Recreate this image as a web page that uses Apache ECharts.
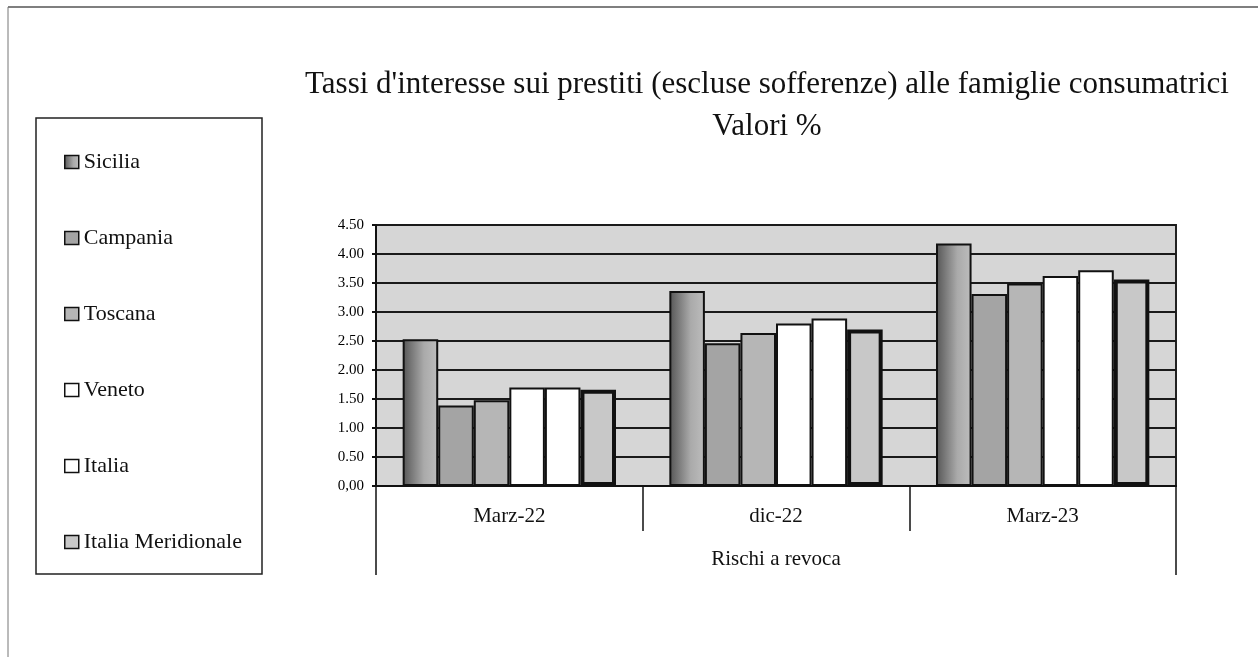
<!DOCTYPE html>
<html><head><meta charset="utf-8">
<script src="https://cdn.jsdelivr.net/npm/echarts@6/dist/echarts.min.js"></script>
<style>html,body{margin:0;padding:0;background:#fff}#c{width:1258px;height:657px}</style>
</head><body><div id="c"></div>
<script>
const categories = ['Marz-22', 'dic-22', 'Marz-23'];
const groupLabel = ['Rischi a revoca'];
const seriesNames = ['Sicilia', 'Campania', 'Toscana', 'Veneto', 'Italia', 'Italia Meridionale'];
const sicilia = [2.53, 3.36, 4.18];
const campania = [1.39, 2.46, 3.31];
const toscana = [1.48, 2.64, 3.49];
const veneto = [1.70, 2.80, 3.62];
const italia = [1.70, 2.89, 3.72];
const meridionale = [1.66, 2.70, 3.56];
const yTickLabels = ['0,00', '0.50', '1.00', '1.50', '2.00', '2.50', '3.00', '3.50', '4.00', '4.50'];

const serif = 'Liberation Serif';
const values = [sicilia, campania, toscana, veneto, italia, meridionale];
const fills = [
  {type: 'linear', x: 0, y: 0, x2: 1, y2: 0, colorStops: [{offset: 0, color: '#555'}, {offset: 0.6, color: '#aaa'}, {offset: 1, color: '#bdbdbd'}]},
  '#a4a4a4', '#b6b6b6', '#ffffff', '#ffffff', '#c8c8c8'
];
const borders = [2, 2, 2, 2, 2, 4];

const chart = echarts.init(document.getElementById('c'), null, {renderer: 'canvas'});
chart.setOption({
  animation: false,
  backgroundColor: '#fff',
  title: {
    text: "Tassi d'interesse sui prestiti (escluse sofferenze) alle famiglie consumatrici\nValori %",
    left: 762, top: 59, textAlign: 'center',
    textStyle: {fontFamily: serif, fontSize: 31, fontWeight: 'normal', color: '#111', lineHeight: 42}
  },
  legend: {
    orient: 'vertical', left: 59, top: 145,
    itemWidth: 14, itemHeight: 13, itemGap: 52, icon: 'rect',
    data: seriesNames,
    textStyle: {fontFamily: serif, fontSize: 22, color: '#111', lineHeight: 24},
    itemStyle: {borderColor: '#111', borderWidth: 1.5}
  },
  grid: {left: 376, right: 82, top: 225, bottom: 171, show: true, backgroundColor: '#d6d6d6', borderColor: '#222', borderWidth: 2},
  xAxis: [{
    type: 'category', data: categories, position: 'bottom',
    axisLine: {lineStyle: {color: '#111', width: 2}},
    axisTick: {show: true, interval: 0, length: 45, lineStyle: {color: '#111', width: 1.5}},
    axisLabel: {fontFamily: serif, fontSize: 21, color: '#111', margin: 20}
  }, {
    type: 'category', data: groupLabel, position: 'bottom',
    axisLine: {show: false},
    axisTick: {show: true, interval: 0, length: 89, lineStyle: {color: '#111', width: 1.5}},
    axisLabel: {fontFamily: serif, fontSize: 21, color: '#111', margin: 63}
  }],
  yAxis: {
    type: 'value', min: 0, max: 4.5, interval: 0.5,
    axisLine: {show: true, lineStyle: {color: '#111', width: 2}},
    axisTick: {show: true, length: 4, lineStyle: {color: '#111', width: 2}},
    axisLabel: {fontFamily: serif, fontSize: 15, color: '#000', margin: 12,
      formatter: v => yTickLabels[Math.round(v / 0.5)]},
    splitLine: {show: true, lineStyle: {color: '#1a1a1a', width: 2}}
  },
  series: seriesNames.map((n, i) => ({
    name: n, type: 'bar', xAxisIndex: 0, data: values[i],
    barGap: '0%', barCategoryGap: '20%',
    itemStyle: {color: fills[i], borderColor: '#111', borderWidth: borders[i]}
  })),
  graphic: [
    {type: 'rect', shape: {x: 36, y: 118, width: 226, height: 456}, style: {fill: 'none', stroke: '#222', lineWidth: 1.5}, z: -1},
    {type: 'line', shape: {x1: 8, y1: 7, x2: 1258, y2: 7}, style: {stroke: '#555', lineWidth: 1.5}},
    {type: 'line', shape: {x1: 8, y1: 7, x2: 8, y2: 657}, style: {stroke: '#777', lineWidth: 1}}
  ]
});
</script></body></html>
